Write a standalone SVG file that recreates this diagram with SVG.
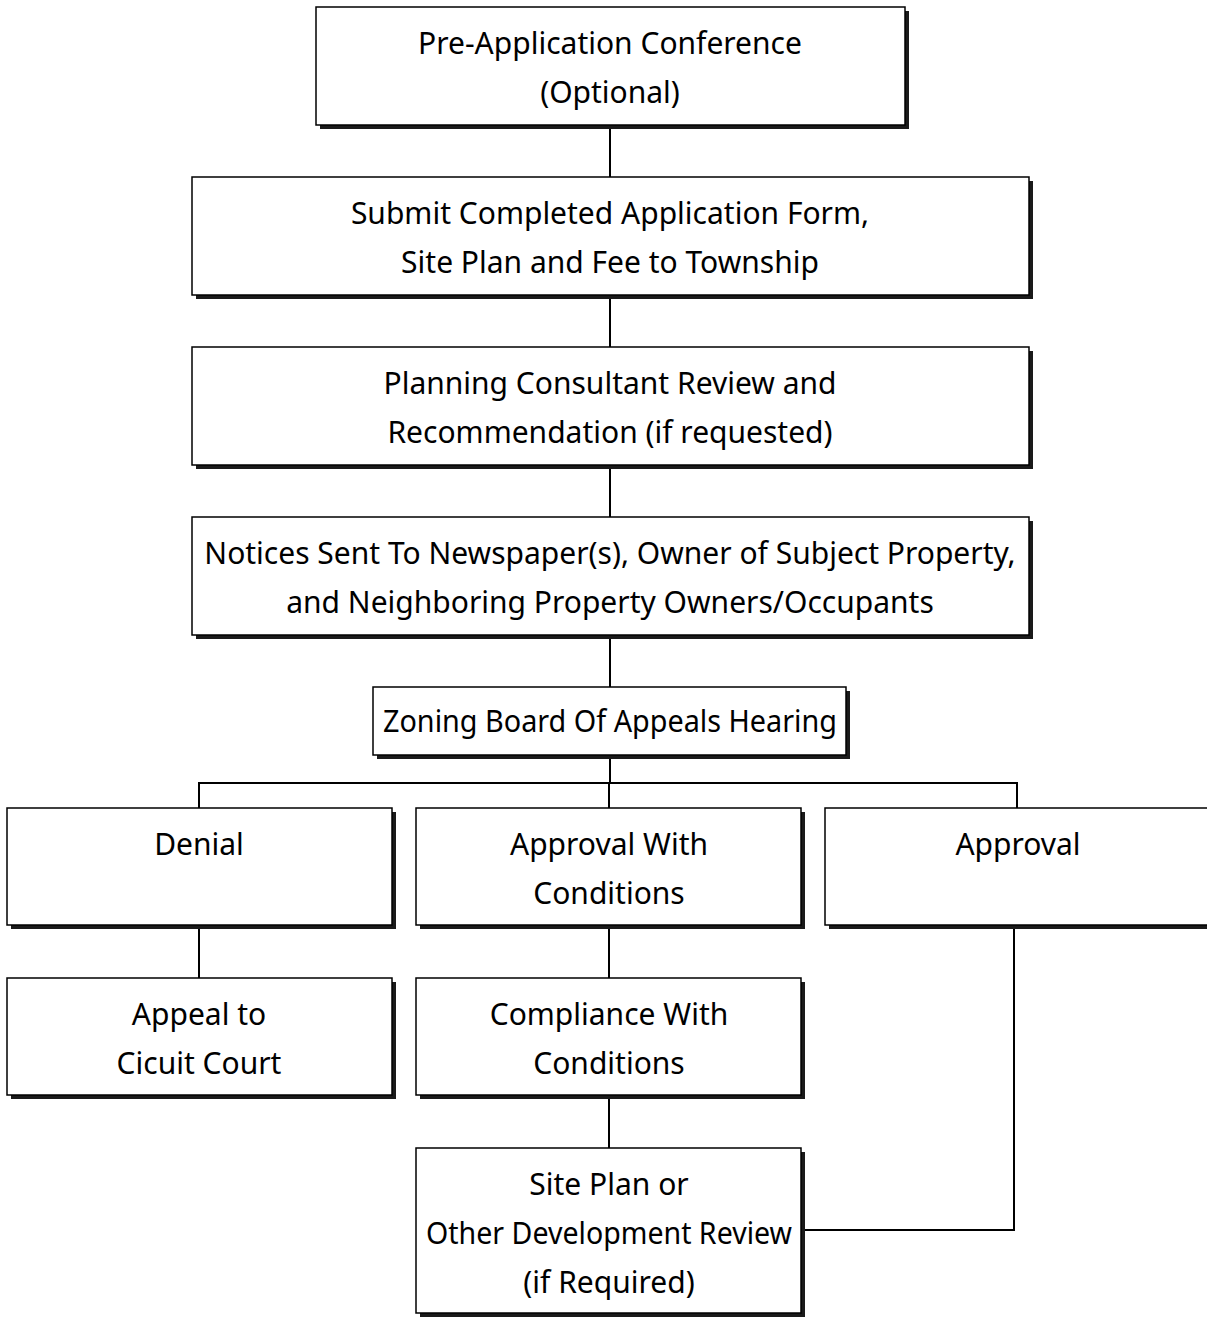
<svg xmlns="http://www.w3.org/2000/svg" width="1207" height="1317" viewBox="0 0 1207 1317">
<style>
.box{fill:#fff;stroke:#000;stroke-width:1.5}
.sh{fill:#1a1a1a}
.t{font-family:"Noto Sans","DejaVu Sans",sans-serif;font-size:30px;fill:#000;text-anchor:middle}
.c{fill:none;stroke:#000;stroke-width:2}
</style>
<rect width="1207" height="1317" fill="#fff"/>
<g id="connectors">
<path class="c" d="M610 125V177M610 295V347M610 465V517M610 635V687M610 755V783M199 808V783H1017V808M609 783V808M199 925V978M609 925V978M609 1095V1148M1014 925V1230H801"/>
</g>
<g id="n1"><rect class="sh" x="320" y="11" width="589" height="118"/><rect class="box" x="316" y="7" width="589" height="118"/><text class="t" x="610" y="54">Pre-Application Conference</text><text class="t" x="610" y="103">(Optional)</text></g>
<g id="n2"><rect class="sh" x="196" y="181" width="837" height="118"/><rect class="box" x="192" y="177" width="837" height="118"/><text class="t" x="610" y="224">Submit Completed Application Form,</text><text class="t" x="610" y="273">Site Plan and Fee to Township</text></g>
<g id="n3"><rect class="sh" x="196" y="351" width="837" height="118"/><rect class="box" x="192" y="347" width="837" height="118"/><text class="t" x="610" y="394">Planning Consultant Review and</text><text class="t" x="610" y="443">Recommendation (if requested)</text></g>
<g id="n4"><rect class="sh" x="196" y="521" width="837" height="118"/><rect class="box" x="192" y="517" width="837" height="118"/><text class="t" x="610" y="564">Notices Sent To Newspaper(s), Owner of Subject Property,</text><text class="t" x="610" y="613">and Neighboring Property Owners/Occupants</text></g>
<g id="n5"><rect class="sh" x="377" y="691" width="473" height="68"/><rect class="box" x="373" y="687" width="473" height="68"/><text class="t" x="610" y="732" textLength="454" lengthAdjust="spacingAndGlyphs">Zoning Board Of Appeals Hearing</text></g>
<g id="n6"><rect class="sh" x="11" y="812" width="385" height="117"/><rect class="box" x="7" y="808" width="385" height="117"/><text class="t" x="199" y="855">Denial</text></g>
<g id="n7"><rect class="sh" x="420" y="812" width="385" height="117"/><rect class="box" x="416" y="808" width="385" height="117"/><text class="t" x="609" y="855">Approval With</text><text class="t" x="609" y="904">Conditions</text></g>
<g id="n8"><rect class="sh" x="829" y="812" width="385" height="117"/><rect class="box" x="825" y="808" width="385" height="117"/><text class="t" x="1018" y="855">Approval</text></g>
<g id="n9"><rect class="sh" x="11" y="982" width="385" height="117"/><rect class="box" x="7" y="978" width="385" height="117"/><text class="t" x="199" y="1025">Appeal to</text><text class="t" x="199" y="1074">Cicuit Court</text></g>
<g id="n10"><rect class="sh" x="420" y="982" width="385" height="117"/><rect class="box" x="416" y="978" width="385" height="117"/><text class="t" x="609" y="1025">Compliance With</text><text class="t" x="609" y="1074">Conditions</text></g>
<g id="n11"><rect class="sh" x="420" y="1152" width="385" height="165"/><rect class="box" x="416" y="1148" width="385" height="165"/><text class="t" x="609" y="1195">Site Plan or</text><text class="t" x="609" y="1244" textLength="366" lengthAdjust="spacingAndGlyphs">Other Development Review</text><text class="t" x="609" y="1293">(if Required)</text></g>
</svg>
